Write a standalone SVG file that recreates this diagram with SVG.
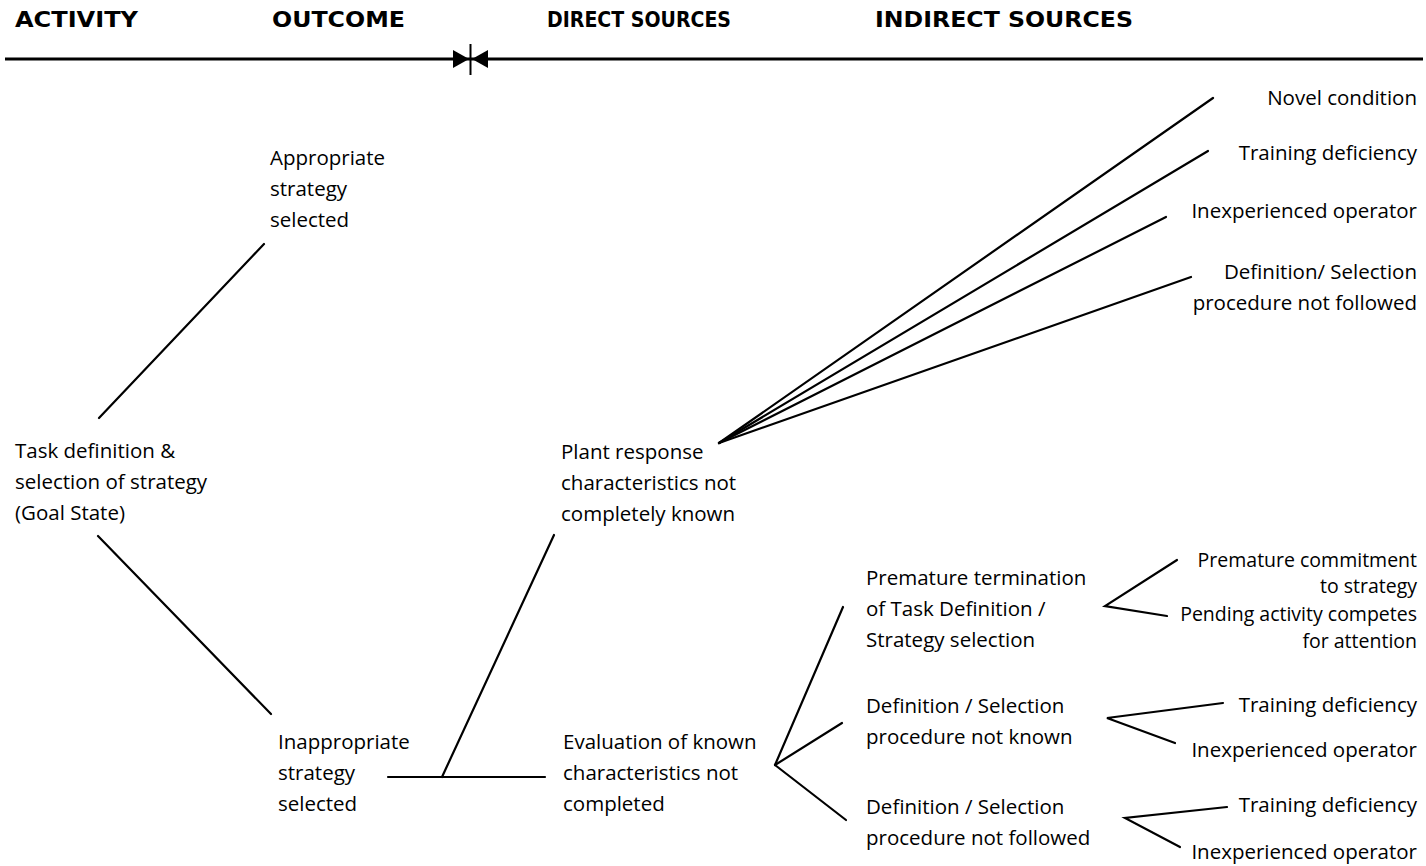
<svg xmlns="http://www.w3.org/2000/svg" width="1426" height="866" viewBox="0 0 1426 866">
<style>
  .h { font-family: "DejaVu Sans", "Liberation Sans", sans-serif; font-weight: bold; font-size: 21px; fill: #000; }
  .t { font-family: "Open Sans", "Liberation Sans", sans-serif; font-size: 20.5px; fill: #000; }
  .s { font-size: 19.5px; }
  .r { text-anchor: end; }
  .c { stroke: #000; stroke-width: 2.2; fill: none; stroke-linecap: round; }
</style>
<rect width="1426" height="866" fill="#fff"/>
<g id="header">
  <text class="h" x="15" y="27" textLength="123" lengthAdjust="spacingAndGlyphs">ACTIVITY</text>
  <text class="h" x="272" y="27" textLength="133" lengthAdjust="spacingAndGlyphs">OUTCOME</text>
  <text class="h" x="547" y="27" textLength="184" lengthAdjust="spacingAndGlyphs">DIRECT SOURCES</text>
  <text class="h" x="875" y="27" textLength="258" lengthAdjust="spacingAndGlyphs">INDIRECT SOURCES</text>
  <line x1="5" y1="59" x2="1423" y2="59" stroke="#000" stroke-width="3"/>
  <polygon points="453,50 453,68 469,59" fill="#000"/>
  <polygon points="488,50 488,68 472,59" fill="#000"/>
  <line x1="470.5" y1="44" x2="470.5" y2="75" stroke="#000" stroke-width="2"/>
</g>
<g id="connectors">
  <line class="c" x1="99" y1="418" x2="264" y2="244"/>
  <line class="c" x1="98" y1="536" x2="271" y2="714"/>
  <line class="c" x1="388" y1="777" x2="545" y2="777"/>
  <line class="c" x1="442" y1="777" x2="554" y2="535"/>
  <line class="c" x1="719" y1="443" x2="1213" y2="98"/>
  <line class="c" x1="719" y1="443" x2="1208" y2="151"/>
  <line class="c" x1="719" y1="443" x2="1166" y2="217"/>
  <line class="c" x1="719" y1="443" x2="1191" y2="277"/>
  <line class="c" x1="775" y1="765" x2="843" y2="607"/>
  <line class="c" x1="775" y1="765" x2="842" y2="723"/>
  <line class="c" x1="775" y1="765" x2="846" y2="820"/>
  <polyline class="c" points="1177,560 1105,606 1167,616"/>
  <polyline class="c" points="1223,703 1107,718 1175,743"/>
  <polyline class="c" points="1227,807 1125,818 1180,847"/>
</g>
<g id="n-appropriate">
  <text class="t" x="270" y="165">Appropriate</text>
  <text class="t" x="270" y="196">strategy</text>
  <text class="t" x="270" y="227">selected</text>
</g>
<g id="n-task">
  <text class="t" x="15" y="458">Task definition &amp;</text>
  <text class="t" x="15" y="489">selection of strategy</text>
  <text class="t" x="15" y="520">(Goal State)</text>
</g>
<g id="n-inappropriate">
  <text class="t" x="278" y="749">Inappropriate</text>
  <text class="t" x="278" y="780">strategy</text>
  <text class="t" x="278" y="811">selected</text>
</g>
<g id="n-plant">
  <text class="t" x="561" y="459">Plant response</text>
  <text class="t" x="561" y="490">characteristics not</text>
  <text class="t" x="561" y="521">completely known</text>
</g>
<g id="n-evaluation">
  <text class="t" x="563" y="749">Evaluation of known</text>
  <text class="t" x="563" y="780">characteristics not</text>
  <text class="t" x="563" y="811">completed</text>
</g>
<g id="n-premature">
  <text class="t" x="866" y="585">Premature termination</text>
  <text class="t" x="866" y="616">of Task Definition /</text>
  <text class="t" x="866" y="647">Strategy selection</text>
</g>
<g id="n-notknown">
  <text class="t" x="866" y="713">Definition / Selection</text>
  <text class="t" x="866" y="744">procedure not known</text>
</g>
<g id="n-notfollowed">
  <text class="t" x="866" y="814">Definition / Selection</text>
  <text class="t" x="866" y="845">procedure not followed</text>
</g>
<g id="n-novel"><text class="t r" x="1417" y="105">Novel condition</text></g>
<g id="n-training1"><text class="t r" x="1417" y="160">Training deficiency</text></g>
<g id="n-inexp1"><text class="t r" x="1417" y="218">Inexperienced operator</text></g>
<g id="n-defsel">
  <text class="t r" x="1417" y="279">Definition/ Selection</text>
  <text class="t r" x="1417" y="310">procedure not followed</text>
</g>
<g id="n-commitment">
  <text class="t s r" x="1417" y="567">Premature commitment</text>
  <text class="t s r" x="1417" y="593">to strategy</text>
</g>
<g id="n-pending">
  <text class="t s r" x="1417" y="621">Pending activity competes</text>
  <text class="t s r" x="1417" y="648">for attention</text>
</g>
<g id="n-training2"><text class="t r" x="1417" y="712">Training deficiency</text></g>
<g id="n-inexp2"><text class="t r" x="1417" y="757">Inexperienced operator</text></g>
<g id="n-training3"><text class="t r" x="1417" y="812">Training deficiency</text></g>
<g id="n-inexp3"><text class="t r" x="1417" y="859">Inexperienced operator</text></g>
</svg>
